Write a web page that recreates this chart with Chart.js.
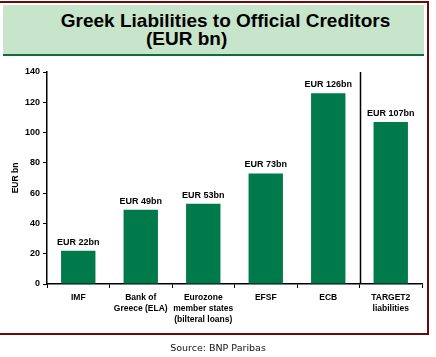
<!DOCTYPE html>
<html>
<head>
<meta charset="utf-8">
<script src="https://cdn.jsdelivr.net/npm/chart.js@4/dist/chart.umd.min.js"></script>
<style>
  html, body { margin:0; padding:0; background:#fff; width:436px; height:357px; overflow:hidden; }
  #wrap { position:absolute; left:0; top:0; width:436px; height:357px; }
  #frame { position:absolute; left:-2px; top:1px; width:429px; height:330px; border-top:2px solid #6b0a0a; border-right:2px solid #6b0a0a; border-bottom:2px solid #6b0a0a; }
  #titlebox { position:absolute; left:3px; top:5px; width:421px; height:49px; background:#c6e5cb; border-bottom:2px solid #0f6b40; }
  .t { position:absolute; font-family:"Liberation Sans", Arial, sans-serif; font-weight:bold; font-size:19px; color:#000; white-space:nowrap; line-height:19px; }
  #t1 { left:0; width:451px; text-align:center; top:11px; }
  #t2 { left:146px; top:29px; }
  #src { position:absolute; left:0; width:436px; text-align:center; top:342px; font-family:"DejaVu Sans", Verdana, sans-serif; font-size:9.5px; color:#111; }
  canvas { position:absolute; left:0; top:0; }
</style>
</head>
<body>
<div id="wrap">
  <canvas id="c" width="436" height="357"></canvas>
  <div id="frame"></div>
  <div id="titlebox"></div>
  <div class="t" id="t1">Greek Liabilities to Official Creditors</div>
  <div class="t" id="t2">(EUR bn)</div>
  <div id="src">Source: BNP Paribas</div>
</div>
<script>
const categories = [
  "IMF",
  ["Bank of", "Greece (ELA)"],
  ["Eurozone", "member states", "(bilteral loans)"],
  "EFSF",
  "ECB",
  ["TARGET2", "liabilities"]
];
const values = [22, 49, 53, 73, 126, 107];
const valueLabels = ["EUR 22bn", "EUR 49bn", "EUR 53bn", "EUR 73bn", "EUR 126bn", "EUR 107bn"];
const yTicks = [0, 20, 40, 60, 80, 100, 120, 140];
const separatorAfterIndex = 4;

const FONT = '"Liberation Sans", Arial, sans-serif';

const labelPlugin = {
  id: 'valueLabels',
  afterDatasetsDraw(chart) {
    const ctx = chart.ctx;
    const meta = chart.getDatasetMeta(0);
    ctx.save();
    ctx.font = 'bold 9px ' + FONT;
    ctx.fillStyle = '#000';
    ctx.textAlign = 'center';
    ctx.textBaseline = 'alphabetic';
    meta.data.forEach((bar, i) => {
      ctx.fillText(valueLabels[i], bar.x, bar.y - 6);
    });
    ctx.restore();
  }
};

const separatorPlugin = {
  id: 'separator',
  afterDatasetsDraw(chart) {
    const x = chart.scales.x;
    const area = chart.chartArea;
    const px = (x.getPixelForValue(separatorAfterIndex) + x.getPixelForValue(separatorAfterIndex + 1)) / 2;
    const ctx = chart.ctx;
    ctx.save();
    ctx.strokeStyle = '#000';
    ctx.lineWidth = 1.5;
    ctx.beginPath();
    ctx.moveTo(Math.round(px) + 0.5, area.top);
    ctx.lineTo(Math.round(px) + 0.5, area.bottom);
    ctx.stroke();
    ctx.restore();
  }
};

new Chart(document.getElementById('c'), {
  type: 'bar',
  data: {
    labels: categories,
    datasets: [{
      data: values,
      backgroundColor: '#007a4b',
      borderWidth: 0,
      barPercentage: 0.55,
      categoryPercentage: 1.0
    }]
  },
  options: {
    responsive: false,
    devicePixelRatio: 1,
    animation: false,
    layout: { padding: { left: 0, right: 14, top: 72, bottom: 33 } },
    plugins: { legend: { display: false }, tooltip: { enabled: false }, title: { display: false } },
    scales: {
      x: {
        grid: { display: true, drawOnChartArea: false, drawTicks: true, tickLength: 4, offset: true, color: '#000', lineWidth: 1 },
        border: { display: true, color: '#000', width: 1.5 },
        ticks: { color: '#000', font: { family: FONT, size: 8.5, weight: 'bold', lineHeight: 1.3 }, padding: 4, maxRotation: 0, autoSkip: false },
        afterFit(scale) { scale.height = 40; }
      },
      y: {
        min: 0, max: 140,
        afterBuildTicks(scale) { scale.ticks = yTicks.map(v => ({ value: v })); },
        grid: { display: true, drawOnChartArea: false, drawTicks: true, tickLength: 4, color: '#000' },
        border: { display: true, color: '#000', width: 1.5 },
        ticks: { color: '#000', font: { family: FONT, size: 9, weight: 'bold' }, padding: 3 },
        title: { display: true, text: 'EUR bn', color: '#000', font: { family: FONT, size: 8.5, weight: 'bold' }, padding: { top: 11, bottom: 0 } },
        afterFit(scale) { scale.width = 47; }
      }
    }
  },
  plugins: [labelPlugin, separatorPlugin]
});
</script>
</body>
</html>
